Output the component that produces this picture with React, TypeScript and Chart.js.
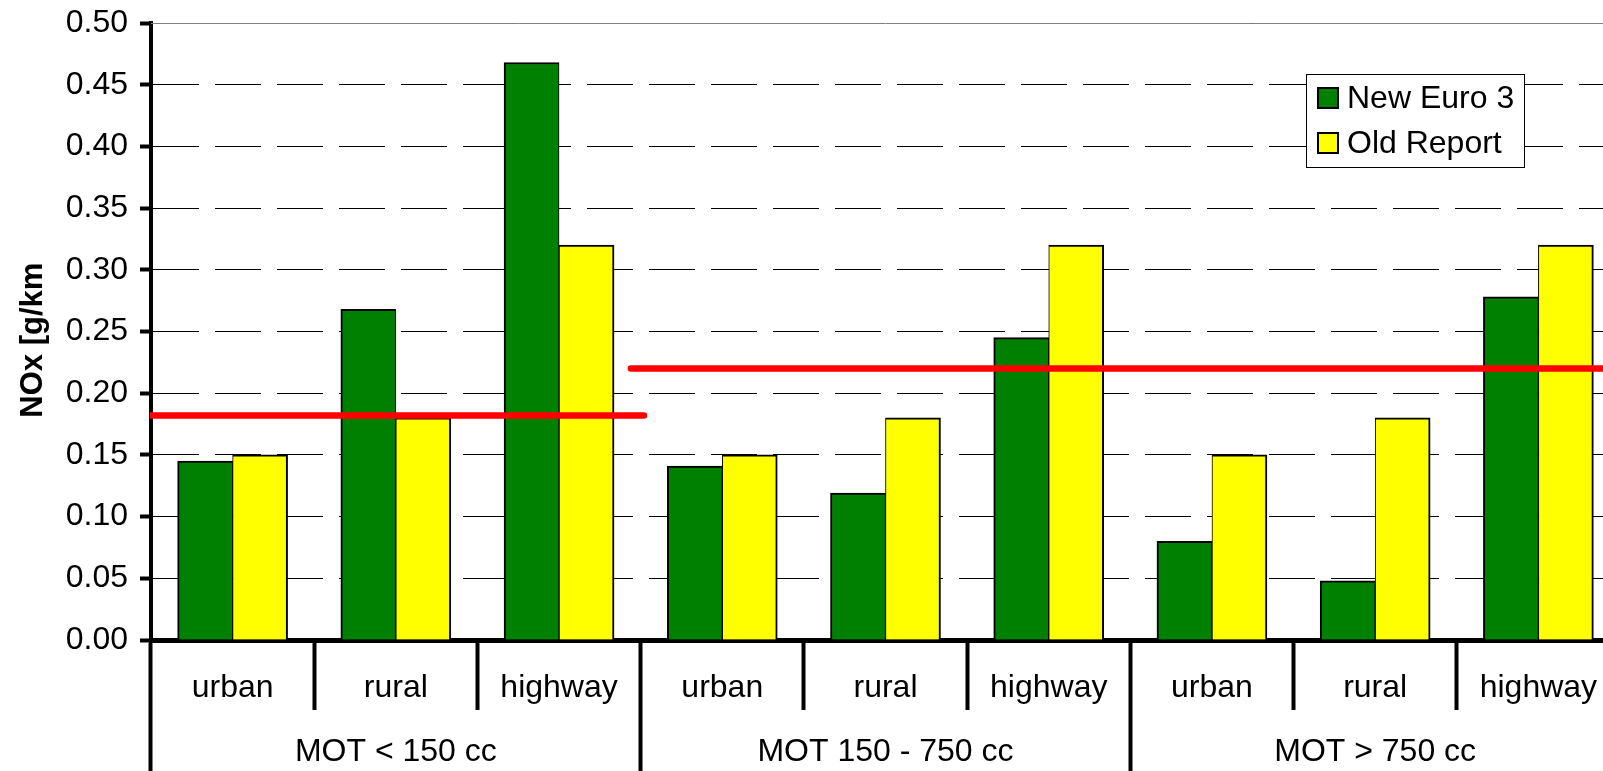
import React, { useEffect, useRef } from "react";
import { Chart, registerables } from "chart.js";

Chart.register(...registerables);

const categories = ["urban", "rural", "highway", "urban", "rural", "highway", "urban", "rural", "highway"];
const groups = ["MOT < 150 cc", "MOT 150 - 750 cc", "MOT > 750 cc"];
const newEuro3 = [0.145, 0.268, 0.468, 0.141, 0.119, 0.245, 0.080, 0.048, 0.278];
const oldReport = [0.15, 0.18, 0.32, 0.15, 0.18, 0.32, 0.15, 0.18, 0.32];
const limitValues = [0.182, 0.22];
const limitStarts = [-0.5, 2.44];
const limitEnds = [2.52, 8.6];
const yTitle = "NOx [g/km  ";

const FONT = "'Liberation Sans', Arial, sans-serif";

const frameLimitsLegend = {
  id: "frameLimitsLegend",
  beforeDatasetsDraw(chart: any) {
    const { ctx, chartArea } = chart;
    ctx.save();
    ctx.strokeStyle = "#808080";
    ctx.lineWidth = 1;
    ctx.beginPath();
    ctx.moveTo(chartArea.left, chartArea.top + 0.5);
    ctx.lineTo(chartArea.right, chartArea.top + 0.5);
    ctx.stroke();
    ctx.restore();
  },
  afterDatasetsDraw(chart: any) {
    const { ctx, chartArea } = chart;
    const xs = chart.scales.x;
    const ys = chart.scales.y;
    ctx.save();
    ctx.beginPath();
    ctx.rect(chartArea.left - 1, chartArea.top, chartArea.right - chartArea.left + 1, chartArea.bottom - chartArea.top + 10);
    ctx.clip();
    ctx.strokeStyle = "#FF0000";
    ctx.lineWidth = 6.5;
    ctx.lineCap = "round";
    limitValues.forEach((v, i) => {
      const y = ys.getPixelForValue(v);
      ctx.beginPath();
      ctx.moveTo(xs.getPixelForValue(limitStarts[i]), y);
      ctx.lineTo(xs.getPixelForValue(limitEnds[i]), y);
      ctx.stroke();
    });
    ctx.restore();
  },
  afterDraw(chart: any) {
    const { ctx } = chart;
    const bx = 1306, by = 74, bw = 218, bh = 93;
    ctx.save();
    ctx.fillStyle = "#fff";
    ctx.fillRect(bx, by, bw, bh);
    ctx.strokeStyle = "#000";
    ctx.lineWidth = 1;
    ctx.strokeRect(bx + 0.5, by + 0.5, bw, bh);
    chart.data.datasets.forEach((d: any, i: number) => {
      const sy = 87 + i * 45;
      ctx.fillStyle = d.backgroundColor;
      ctx.fillRect(1317, sy, 22, 22);
      ctx.strokeStyle = "#000";
      ctx.lineWidth = 2;
      ctx.strokeRect(1318, sy + 1, 20, 20);
      ctx.fillStyle = "#000";
      ctx.font = `32px ${FONT}`;
      ctx.textBaseline = "middle";
      ctx.textAlign = "left";
      ctx.fillText(d.label, 1347, sy + 12);
    });
    ctx.restore();
  },
};

const zeroPad = (s: any) => {
  s.paddingTop = 0;
  s.paddingBottom = 0;
  s.paddingLeft = 0;
  s.paddingRight = 0;
};

export default function App() {
  const ref = useRef<HTMLCanvasElement>(null);
  useEffect(() => {
    if (!ref.current) return;
    Chart.defaults.font.family = FONT;
    Chart.defaults.color = "#000";
    const chart = new Chart(ref.current, {
      type: "bar",
      data: {
        labels: categories,
        datasets: [
          {
            label: "New Euro 3",
            data: newEuro3,
            backgroundColor: "#008000",
            borderColor: "#000",
            borderWidth: { left: 2, right: 1, top: 2, bottom: 0 },
            barThickness: 55,
          } as any,
          {
            label: "Old Report",
            data: oldReport,
            backgroundColor: "#FFFF00",
            borderColor: "#000",
            borderWidth: { left: 1, right: 2, top: 2, bottom: 0 },
            barThickness: 55,
          } as any,
        ],
      },
      options: {
        responsive: false,
        animation: false,
        layout: { padding: { left: 0, right: 20, top: 23, bottom: 0 } },
        plugins: { legend: { display: false }, tooltip: { enabled: false } },
        scales: {
          x: {
            type: "category",
            position: "bottom",
            offset: true,
            weight: 0,
            grid: {
              offset: true,
              drawOnChartArea: false,
              drawTicks: true,
              tickLength: 70,
              tickWidth: 4,
              tickColor: "#000",
            },
            border: { display: true, color: "#000", width: 5 },
            ticks: {
              autoSkip: false,
              maxRotation: 0,
              minRotation: 0,
              padding: -41,
              font: { size: 32 },
              color: "#000",
            },
            afterFit: (s: any) => {
              s.height = 70;
              zeroPad(s);
            },
          },
          xGroup: {
            type: "category",
            position: "bottom",
            labels: groups,
            offset: true,
            weight: 1,
            grid: {
              offset: true,
              drawOnChartArea: false,
              drawTicks: true,
              tickLength: 61,
              tickWidth: 4,
              tickColor: "#000",
            },
            border: { display: false },
            ticks: {
              autoSkip: false,
              maxRotation: 0,
              minRotation: 0,
              padding: -38,
              font: { size: 32 },
              color: "#000",
            },
            afterFit: (s: any) => {
              s.height = 61;
              zeroPad(s);
            },
          },
          y: {
            type: "linear",
            position: "left",
            min: 0,
            max: 0.5,
            grid: {
              color: "#000",
              lineWidth: 1,
              drawTicks: true,
              tickLength: 11,
              tickWidth: 4,
              tickColor: "#000",
            },
            border: { display: true, color: "#000", width: 4, dash: [46, 16] },
            ticks: {
              stepSize: 0.05,
              padding: 12,
              font: { size: 32 },
              color: "#000",
              callback: (v: any) => Number(v).toFixed(2),
            },
            title: {
              display: true,
              text: yTitle,
              font: { size: 31, weight: "bold" },
              color: "#000",
              padding: { top: 15, bottom: 0 },
            },
            afterFit: (s: any) => {
              s.width = 151;
              zeroPad(s);
            },
          },
        },
      },
      plugins: [frameLimitsLegend],
    } as any);
    return () => chart.destroy();
  }, []);

  return (
    <div
      style={{
        position: "fixed",
        left: 0,
        top: 0,
        width: "100vw",
        height: "100vh",
        overflow: "hidden",
        background: "#fff",
      }}
    >
      <canvas ref={ref} width={1640} height={771} style={{ display: "block" }} />
    </div>
  );
}
